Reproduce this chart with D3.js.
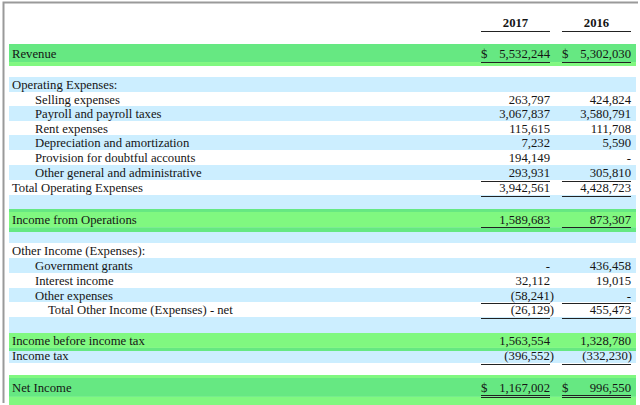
<!DOCTYPE html>
<html><head><meta charset="utf-8">
<script src="https://cdn.jsdelivr.net/npm/d3@7"></script>
<style>body{margin:0;background:#fff}svg{display:block}</style>
</head><body><svg id="c" width="640" height="405"></svg>
<script>
// ---- data ----
const years = ["2017", "2016"];
const labels = ["Revenue","","Operating Expenses:","Selling expenses","Payroll and payroll taxes","Rent expenses","Depreciation and amortization","Provision for doubtful accounts","Other general and administrative","Total Operating Expenses","","Income from Operations","","Other Income (Expenses):","Government grants","Interest income","Other expenses","Total Other Income (Expenses) - net","","Income before income tax","Income tax","","Net Income"];
const indentLevel = [0,0,0,1,1,1,1,1,1,0,0,0,0,0,1,1,1,2,0,0,0,0,0];
const values2017 = [5532244,null,null,263797,3067837,115615,7232,194149,293931,3942561,null,1589683,null,null,0,32112,-58241,-26129,null,1563554,-396552,null,1167002];
const values2016 = [5302030,null,null,424824,3580791,111708,5590,0,305810,4428723,null,873307,null,null,436458,19015,0,455473,null,1328780,-332230,null,996550];
const shade = ["g1","w","b","w","b","w","b","w","b","w","b","g2","b","w","b","w","b","w","b","g3","b","w","g4"];
const rule = [1,0,0,0,0,0,0,0,1,1,0,1,0,0,0,0,1,1,0,0,1,0,2];
const dollar = [1,0,0,0,0,0,0,0,0,0,0,0,0,0,0,0,0,0,0,0,0,0,1];

// ---- layout / style ----
const rowH = [22,11,15,14,15,14,15,15,15,15,14,23,11,15,15,15,14,15,16,18,12,12,30];
const textOff = [9.5,0,7.5,7,7.5,7,7.5,7.5,7.5,7.5,0,10,0,7.5,7.5,7.5,7,7.5,0,7.5,4.5,0,12];
const top0 = 44;
const light = "#80f880", dark = "#66e882", blue = "#cceeff";
const bands = {
  w: [], b: [[0,1,blue]],
  g1: [[0,0.82,dark],[0.82,1,light]],
  g2: [[0,0.13,dark],[0.13,0.79,light],[0.79,1,dark]],
  g3: [[0,0.83,light],[0.83,1,dark]],
  g4: [[0,0.1,light],[0.1,0.73,dark],[0.73,1,light]]
};
const font = "'Liberation Serif','Times New Roman',serif";
const fs = 12.7;
const ink = "#151515";

const svg = d3.select("#c");
const tops = [top0, ...d3.cumsum(rowH).map(v => v + top0)];
const rowTop = i => tops[i];
const cols = d3.scaleBand().domain(years).range([481, 631]).paddingInner(0.148);
const colL = k => cols(k), colR = k => cols(k) + cols.bandwidth();
const hang = {"2017": 4, "2016": 1};

// frame
svg.append("path").attr("d","M3.5,403 V2.5 H638").attr("fill","none").attr("stroke","#9a9a9a").attr("stroke-width",2);

// backgrounds
labels.forEach((l, i) => {
  const t = rowTop(i), h = rowH[i];
  bands[shade[i]].forEach(([a, b, c]) => {
    svg.append("rect").attr("x", 9).attr("width", 627)
      .attr("y", t + a*h).attr("height", (b - a)*h).attr("fill", c);
  });
});

// header
years.forEach(yr => {
  svg.append("text").attr("x", (colL(yr)+colR(yr))/2).attr("y", 26.5)
    .attr("text-anchor","middle").attr("font-family",font).attr("font-size",fs)
    .attr("font-weight","bold").attr("fill",ink).text(yr);
  svg.append("line").attr("x1", colL(yr)).attr("x2", colR(yr)).attr("y1", 31.5).attr("y2", 31.5)
    .attr("stroke","#222").attr("stroke-width",1);
});

const fmt = d3.format(",");
const fmtVal = v => v === 0 ? "-" : v < 0 ? "(" + fmt(-v) + ")" : fmt(v);
const series = {"2017": values2017, "2016": values2016};

labels.forEach((l, i) => {
  if (!l) return;
  const cy = rowTop(i) + textOff[i];
  const base = cy + 4.5;
  svg.append("text").attr("x", 12 + indentLevel[i]*23 + (indentLevel[i] > 1 ? -10 : 0))
    .attr("y", base).attr("font-family",font).attr("font-size",fs).attr("fill",ink).text(l);
  years.forEach(yr => {
    const v = series[yr][i];
    if (v === null) return;
    svg.append("text").attr("x", colR(yr) + (v < 0 ? hang[yr] : 0)).attr("y", base)
      .attr("text-anchor","end").attr("font-family",font).attr("font-size",fs).attr("fill",ink)
      .text(fmtVal(v));
    if (dollar[i]) {
      svg.append("text").attr("x", colL(yr)).attr("y", base)
        .attr("font-family",font).attr("font-size",fs).attr("fill",ink).text("$");
    }
    if (rule[i] >= 1) {
      const ly = Math.round(cy + 8) + 0.5;
      svg.append("line").attr("x1", colL(yr)).attr("x2", colR(yr)).attr("y1", ly).attr("y2", ly)
        .attr("stroke","#222").attr("stroke-width",1);
      if (rule[i] === 2) {
        svg.append("line").attr("x1", colL(yr)).attr("x2", colR(yr)).attr("y1", ly+2).attr("y2", ly+2)
          .attr("stroke","#222").attr("stroke-width",1);
      }
    }
  });
});
</script></body></html>
